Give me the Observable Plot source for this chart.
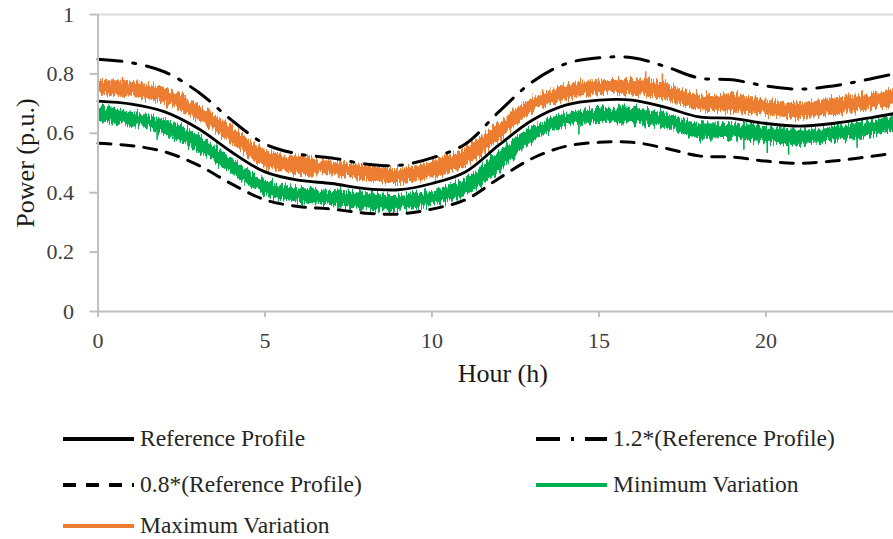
<!DOCTYPE html>
<html>
<head>
<meta charset="utf-8">
<script src="https://cdn.jsdelivr.net/npm/d3@7"></script>
<script src="https://cdn.jsdelivr.net/npm/@observablehq/plot@0.6"></script>
<style>
  html, body { margin: 0; padding: 0; background: #fff; overflow: hidden; }
  #chart { position: relative; width: 893px; height: 539px; font-family: "Liberation Serif", "Times New Roman", serif; }
  #chart svg { overflow: hidden !important; display: block; }
  .legend-item { position: absolute; display: flex; align-items: center; font-family: "Liberation Serif", "Times New Roman", serif; font-size: 23.5px; color: #262626; white-space: nowrap; line-height: 1; }
  .legend-item svg { margin-right: 6px; }
</style>
</head>
<body>
<div id="chart"></div>
<script>
// Hourly reference load profile (p.u.)
const hours = d3.range(0, 25);
const referenceProfile = [0.708, 0.698, 0.672, 0.616, 0.537, 0.470, 0.442, 0.431, 0.414, 0.410, 0.431, 0.470, 0.560,
  0.644, 0.695, 0.712, 0.712, 0.687, 0.655, 0.650, 0.633, 0.624, 0.633, 0.650, 0.670];

// Envelope of the noisy "Maximum Variation" trace (lower / upper edge)
const maxVariationLow = [0.732, 0.721, 0.700, 0.644, 0.566, 0.487, 0.462, 0.459, 0.442, 0.431, 0.448, 0.487, 0.577,
  0.667, 0.712, 0.729, 0.729, 0.712, 0.678, 0.672, 0.661, 0.650, 0.661, 0.678, 0.695];
const maxVariationHigh = [0.779, 0.773, 0.751, 0.695, 0.622, 0.543, 0.520, 0.504, 0.492, 0.481, 0.504, 0.549, 0.633,
  0.717, 0.762, 0.779, 0.781, 0.768, 0.729, 0.729, 0.712, 0.700, 0.717, 0.729, 0.751];

// Envelope of the noisy "Minimum Variation" trace (lower / upper edge)
const minVariationLow = [0.638, 0.627, 0.594, 0.537, 0.464, 0.391, 0.368, 0.357, 0.341, 0.341, 0.357, 0.391, 0.470,
  0.571, 0.622, 0.633, 0.633, 0.616, 0.582, 0.582, 0.571, 0.560, 0.571, 0.588, 0.610];
const minVariationHigh = [0.687, 0.672, 0.644, 0.594, 0.515, 0.442, 0.416, 0.408, 0.397, 0.391, 0.408, 0.448, 0.537,
  0.622, 0.667, 0.684, 0.687, 0.667, 0.633, 0.633, 0.622, 0.610, 0.622, 0.638, 0.661];

// Isolated excursions of the noisy traces
const maxSpikeHours = [0.73, 16.4, 16.9];
const maxSpikeBase = [0.765, 0.770, 0.760];
const maxSpikeTip = [0.788, 0.807, 0.800];
const minSpikeHours = [1.77, 14.4, 19.34, 20.04, 20.68, 22.73];
const minSpikeBase = [0.610, 0.635, 0.590, 0.580, 0.575, 0.585];
const minSpikeTip = [0.577, 0.594, 0.543, 0.532, 0.526, 0.550];

const xTicks = [0, 5, 10, 15, 20];
const yTicks = [0, 0.2, 0.4, 0.6, 0.8, 1];

const legendLabels = ["Reference Profile", "1.2*(Reference Profile)", "0.8*(Reference Profile)", "Minimum Variation", "Maximum Variation"];

const ORANGE = "#ED7D31";
const GREEN = "#00B050";
const AXIS = "#BFBFBF";
const DASH_DOT = "24,11,3,11";
const DASHED = "13,10";

const rows = hours.map((h, i) => ({
  hour: h,
  ref: referenceProfile[i],
  up: 1.2 * referenceProfile[i],
  down: 0.8 * referenceProfile[i],
  maxLo: maxVariationLow[i], maxHi: maxVariationHigh[i],
  minLo: minVariationLow[i], minHi: minVariationHigh[i]
}));
const maxSpikes = maxSpikeHours.map((h, i) => ({hour: h, base: maxSpikeBase[i], tip: maxSpikeTip[i]}));
const minSpikes = minSpikeHours.map((h, i) => ({hour: h, base: minSpikeBase[i], tip: minSpikeTip[i]}));

const curve = "catmull-rom";

const svg = Plot.plot({
  width: 893,
  height: 400,
  marginLeft: 97.5,
  marginRight: 0,
  marginTop: 14,
  marginBottom: 89,
  style: {fontFamily: "'Liberation Serif', 'Times New Roman', serif", background: "#fff"},
  x: {domain: [0, 24], range: [97.5, 899]},
  y: {domain: [0, 1], range: [311, 14]},
  marks: [
    Plot.ruleY([1], {stroke: "#D9D9D9", strokeWidth: 2}),
    Plot.areaY(rows, {x: "hour", y1: "maxLo", y2: "maxHi", fill: ORANGE, curve}),
    Plot.areaY(rows, {x: "hour", y1: "minLo", y2: "minHi", fill: GREEN, curve}),
    Plot.ruleX(maxSpikes, {x: "hour", y1: "base", y2: "tip", stroke: ORANGE, strokeWidth: 1.6}),
    Plot.ruleX(minSpikes, {x: "hour", y1: "base", y2: "tip", stroke: GREEN, strokeWidth: 1.6}),
    Plot.line(rows, {x: "hour", y: "up", stroke: "#000", strokeWidth: 3, strokeDasharray: DASH_DOT, curve}),
    Plot.line(rows, {x: "hour", y: "down", stroke: "#000", strokeWidth: 3, strokeDasharray: DASHED, curve}),
    Plot.line(rows, {x: "hour", y: "ref", stroke: "#000", strokeWidth: 2.8, curve}),
    Plot.ruleX([0], {stroke: AXIS, strokeWidth: 2}),
    Plot.ruleY([0], {stroke: AXIS, strokeWidth: 2}),
    Plot.axisY({ticks: yTicks, tickSize: 8, tickPadding: 16, tickFormat: d => String(d), stroke: AXIS, strokeWidth: 2,
      fill: "#404040", fontSize: 22, label: null}),
    Plot.axisX({ticks: xTicks, tickSize: 6, tickPadding: 15, tickFormat: d => String(d), stroke: AXIS, strokeWidth: 2,
      fill: "#404040", fontSize: 22, label: null}),
    Plot.text(["Hour (h)"], {frameAnchor: "bottom", dy: 70, dx: 7, fontSize: 26, fill: "#1a1a1a", textAnchor: "middle"}),
    Plot.text(["Power (p.u.)"], {frameAnchor: "left", dx: -72.5, rotate: -90, fontSize: 26, fill: "#1a1a1a", textAnchor: "middle"})
  ]
});

// Rough-edge texture for the noisy traces
const s = d3.select(svg);
const defs = s.insert("defs", ":first-child");
const f = defs.append("filter").attr("id", "trace-jitter")
  .attr("x", "-2%").attr("y", "-40%").attr("width", "104%").attr("height", "180%")
  .attr("color-interpolation-filters", "sRGB");
f.append("feTurbulence").attr("type", "fractalNoise").attr("baseFrequency", "0.6 0.06")
  .attr("numOctaves", 2).attr("seed", 7).attr("result", "noise");
f.append("feColorMatrix").attr("in", "noise").attr("type", "matrix")
  .attr("values", "0 0 0 0 0.5  0 1 0 0 0  0 0 0 0 0  0 0 0 0 1").attr("result", "map");
f.append("feDisplacementMap").attr("in", "SourceGraphic").attr("in2", "map").attr("scale", 15)
  .attr("xChannelSelector", "R").attr("yChannelSelector", "G");
s.selectAll('g[aria-label="area"]').attr("filter", "url(#trace-jitter)");

const chart = document.getElementById("chart");
chart.appendChild(svg);

// Legend below the plot: two columns, filled row by row
const legendStyles = [
  {stroke: "#000", dash: null},
  {stroke: "#000", dash: DASH_DOT},
  {stroke: "#000", dash: DASHED},
  {stroke: GREEN, dash: null},
  {stroke: ORANGE, dash: null}
];
const colLeft = [63, 536];
const rowCenter = [439, 485, 526];
legendLabels.forEach((label, i) => {
  const item = d3.select(chart).append("div").attr("class", "legend-item")
    .style("left", colLeft[i % 2] + "px")
    .style("top", (rowCenter[Math.floor(i / 2)] - 14) + "px")
    .style("height", "28px");
  const sw = item.append("svg").attr("width", 71).attr("height", 10);
  sw.append("line").attr("x1", 0).attr("x2", 71).attr("y1", 5).attr("y2", 5)
    .attr("stroke", legendStyles[i].stroke).attr("stroke-width", 4)
    .attr("stroke-dasharray", legendStyles[i].dash);
  item.append("span").text(label);
});
</script>
</body>
</html>
